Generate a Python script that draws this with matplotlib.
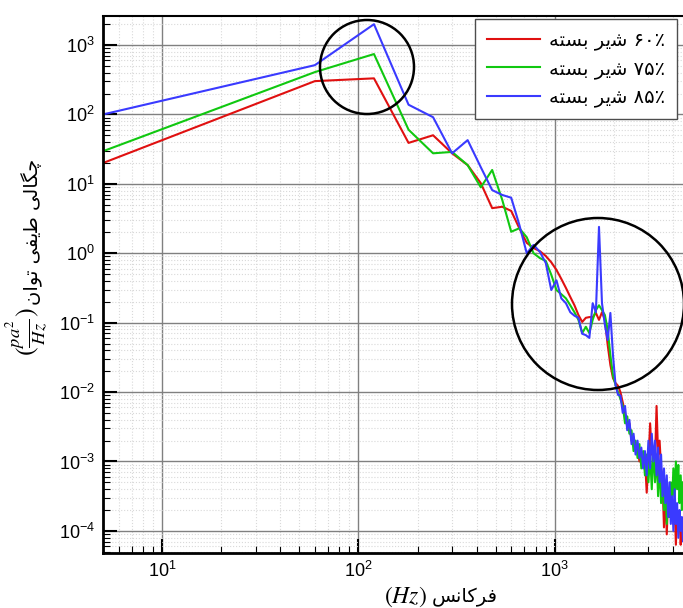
import numpy as np
import matplotlib
matplotlib.use('Agg')
import matplotlib.pyplot as plt
from matplotlib.patches import Circle
from matplotlib.ticker import LogLocator, NullFormatter

plt.rcParams['font.family'] = ['Liberation Sans', 'DejaVu Sans']
plt.rcParams['mathtext.fontset'] = 'stix'

# frequency grid (Hz)
freq = [5, 60, 120, 180, 240, 300, 360, 420, 480, 540, 600, 660, 720, 780, 840,
        900, 960, 1020, 1080, 1140, 1200, 1260, 1320, 1380, 1440, 1500, 1560,
        1620, 1680, 1740, 1800, 1860, 1920, 1980, 2040, 2100,
        2160, 2220, 2280, 2340, 2400, 2460, 2520, 2580, 2640, 2700, 2760, 2820,
        2880, 2940, 3000, 3060, 3120, 3180, 3240, 3300, 3360, 3420, 3480, 3540,
        3600, 3660, 3720, 3780, 3840, 3900, 3960, 4020, 4080, 4140, 4200, 4260,
        4320, 4380, 4440, 4500]

# log10 of PSD
psd60_log = [1.30, 2.48, 2.52, 1.59, 1.70, 1.44, 1.27, 1.01, 0.65, 0.67, 0.61,
             0.36, 0.15, 0.075, 0.03, -0.04, -0.13, -0.24, -0.37, -0.50, -0.63,
             -0.75, -0.89, -0.99, -0.93, -0.92, -0.92, -0.86, -0.96, -0.85, -0.96,
             -1.32, -1.61, -1.80, -1.87, -1.91,
             -2.0, -2.15, -2.3, -2.5, -2.45, -2.7, -2.65, -2.85, -2.8, -3.0, -2.9,
             -3.05, -2.95, -3.45, -3.0, -2.45, -2.9, -2.8, -3.0, -2.2, -2.9, -2.7,
             -3.1, -3.3, -3.95, -3.4, -4.05, -3.5, -3.8, -3.4, -3.7, -3.9, -3.6,
             -4.2, -3.7, -4.0, -3.8, -4.2, -3.9, -4.1]
psd75_log = [1.47, 2.61, 2.87, 1.78, 1.44, 1.46, 1.27, 0.95, 1.2, 0.77, 0.31,
             0.36, 0.23, 0.0, -0.07, -0.11, -0.31, -0.53, -0.59, -0.65, -0.75,
             -0.85, -0.96, -1.15, -1.06, -1.15, -0.96, -0.82, -0.75, -0.82, -0.89,
             -1.1, -1.47, -1.76, -1.90, -2.0,
             -2.1, -2.2, -2.45, -2.35, -2.6, -2.55, -2.85, -2.7, -2.95, -2.75, -3.1,
             -2.85, -3.2, -2.9, -3.3, -2.9, -3.4, -2.8, -3.3, -2.9, -3.5, -3.0,
             -3.6, -3.2, -3.7, -3.3, -3.9, -3.4, -3.8, -3.3, -3.6, -3.1, -3.5,
             -3.0, -3.4, -3.05, -3.6, -3.2, -3.7, -3.3]
psd85_log = [2.0, 2.71, 3.30, 2.14, 1.96, 1.44, 1.63, 1.24, 0.91, 0.84, 0.80,
             0.41, 0.0, 0.12, 0.02, -0.14, -0.53, -0.39, -0.65, -0.72, -0.85,
             -0.90, -0.93, -1.16, -1.18, -1.22, -0.72, -0.85, 0.38, -0.72, -1.03,
             -1.25, -0.86, -1.47, -1.9, -2.04,
             -2.05, -2.3, -2.2, -2.55, -2.4, -2.75, -2.6, -2.9, -2.7, -2.95, -2.8,
             -3.1, -2.85, -3.2, -2.7, -3.1, -2.6, -3.0, -2.7, -3.2, -2.8, -3.3,
             -2.9, -3.5, -3.1, -3.6, -3.2, -3.8, -3.3, -3.9, -3.5, -4.0, -3.4,
             -3.9, -3.6, -4.1, -3.7, -4.0, -3.8, -4.15]

# Persian strings in presentation forms, visual (left-to-right) order
w_baste = '\uFEEA\uFE98\uFEB4\uFE91'
w_shir = '\uFEAE\uFBFE\uFEB7'
labels = [w_baste + ' ' + w_shir + ' \u06F6\u06F0\u066A',
          w_baste + ' ' + w_shir + ' \u06F7\u06F5\u066A',
          w_baste + ' ' + w_shir + ' \u06F8\u06F5\u066A']
ylabel_fa = ('\uFEE5\uFE8D\uFEEE\uFE97' + ' ' +
             '\uFBFD\uFED4\uFBFE\uFEC3' + ' ' +
             '\uFBFD\uFEDF\uFE8E\uFB95\uFB7C')
xlabel_fa = '\uFEB2\uFEE7\uFE8E\uFB90\uFEAE\uFED3'

colors = ['#e01010', '#10c810', '#3a3aff']

fig = plt.figure(figsize=(6.83, 6.08), dpi=100)
ax = fig.add_axes([103 / 683, 1 - 553 / 608, 580 / 683, 537 / 608])

f = np.array(freq)
for vals, c, lab in zip([psd60_log, psd75_log, psd85_log], colors, labels):
    ax.plot(f, 10 ** np.array(vals), color=c, lw=1.5, label=lab)

ax.set_xscale('log')
ax.set_yscale('log')
ax.set_xlim(5, 4500)
ax.set_ylim(4.8e-5, 2620)

ax.xaxis.set_major_locator(LogLocator(base=10, numticks=10))
ax.yaxis.set_major_locator(LogLocator(base=10, numticks=20))
ax.yaxis.set_minor_locator(LogLocator(base=10, subs=np.arange(2, 10), numticks=20))
ax.yaxis.set_minor_formatter(NullFormatter())
ax.xaxis.set_minor_formatter(NullFormatter())

ax.grid(True, which='major', color='0.5', lw=1.0, ls='-')
ax.grid(True, which='minor', color='0.85', lw=0.8, ls=':')
ax.set_axisbelow(True)

ax.tick_params(which='major', direction='in', length=10, width=1.5,
               labelsize=13, pad=6, top=False, right=False)
ax.tick_params(which='minor', direction='in', length=5, width=0.8,
               top=False, right=False)
ax.spines['right'].set_visible(False)
ax.spines['left'].set_linewidth(2)
ax.spines['bottom'].set_linewidth(2)
ax.spines['top'].set_linewidth(1.5)

leg = ax.legend(loc='upper right', bbox_to_anchor=(0.9897, 0.9944),
                borderaxespad=0, fancybox=False, framealpha=1,
                edgecolor='0.3', handlelength=2.7, labelspacing=0.45,
                borderpad=0.6, handletextpad=0.5,
                prop={'family': 'DejaVu Sans', 'size': 14})
leg.get_frame().set_linewidth(1.0)

# highlight circles (figure pixels -> inches)
for cx, cy, r in [(367, 67, 47), (598, 304, 86)]:
    fig.add_artist(Circle((cx / 100, (608 - cy) / 100), r / 100,
                          transform=fig.dpi_scale_trans, fill=False,
                          ec='black', lw=1.8))

# axis labels
fig.text(32 / 683, 1 - 305 / 608, ylabel_fa, rotation=90, ha='center',
         va='bottom', family='DejaVu Sans', fontsize=14)
fig.text(27 / 683, 1 - 307 / 608, r'$(\frac{pa^2}{Hz})$', rotation=90,
         ha='center', va='top', fontsize=19)
fig.text(432 / 683, 1 - 597 / 608, xlabel_fa, ha='left', va='center',
         family='DejaVu Sans', fontsize=14)
fig.text(427 / 683, 1 - 597 / 608, r'$(Hz)$', ha='right', va='center',
         fontsize=17)

fig.savefig('out.png', dpi=100)
